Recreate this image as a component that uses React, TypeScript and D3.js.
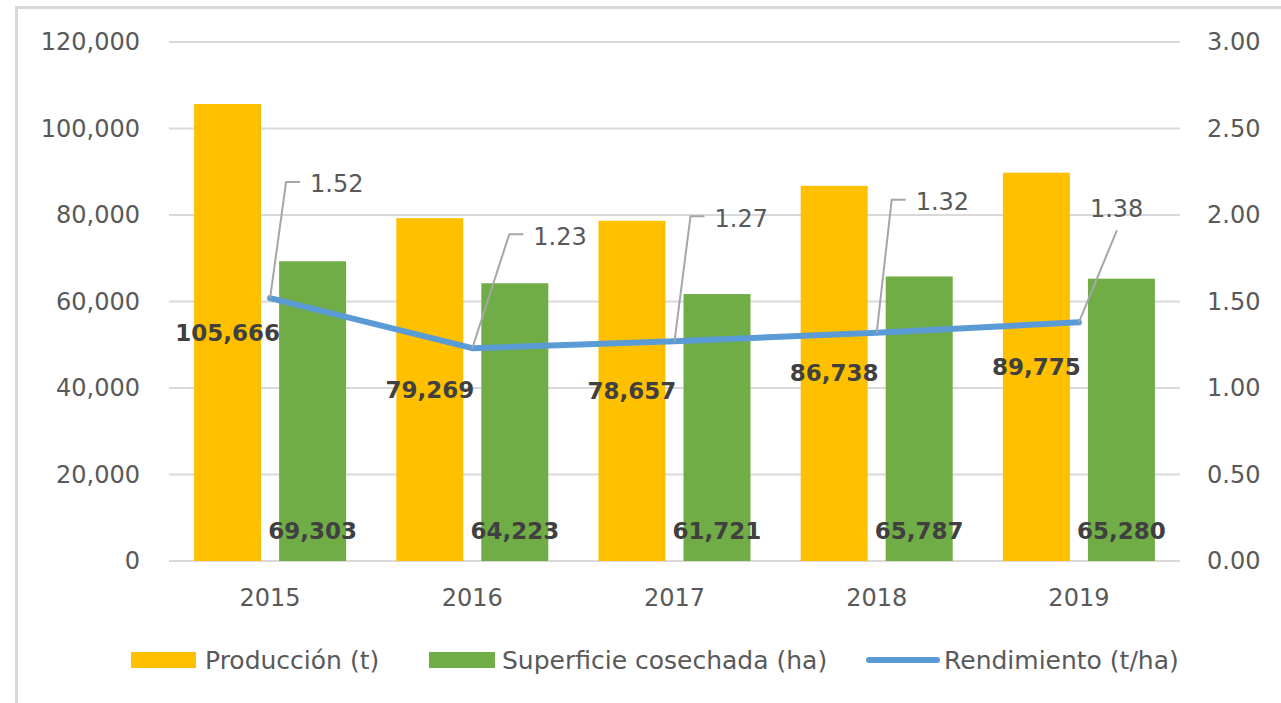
import * as d3 from "d3";

const years = ["2015", "2016", "2017", "2018", "2019"];
const produccion = [105666, 79269, 78657, 86738, 89775];
const superficie = [69303, 64223, 61721, 65787, 65280];
const rendimiento = [1.52, 1.23, 1.27, 1.32, 1.38];
const leftTicks = [0, 20000, 40000, 60000, 80000, 100000, 120000];
const rightTicks = [0, 0.5, 1, 1.5, 2, 2.5, 3];
const legendNames = ["Producción (t)", "Superficie cosechada (ha)", "Rendimiento (t/ha)"];

// manual label placement for the line labels (offset from point, px)
const lineLabelOffsets = [
  { dx: 40, dy: -114, elbow: true },
  { dx: 61, dy: -112, elbow: true },
  { dx: 40, dy: -123, elbow: true },
  { dx: 39, dy: -131, elbow: true },
  { dx: 11, dy: -114, elbow: false },
];

const W = 1281,
  H = 703;
const left = 169,
  right = 1180,
  top = 42,
  bottom = 561;

const YELLOW = "#FFC000",
  GREEN = "#70AD47",
  BLUE = "#5B9BD5",
  GRID = "#d9d9d9",
  TEXT = "#595959",
  LABEL = "#404040";

const font = "'DejaVu Sans', sans-serif";

export default function App() {
  const x0 = d3.scaleBand().domain(years).range([left, right]);
  const bw = x0.bandwidth();
  const x1 = d3
    .scaleBand()
    .domain(["p", "s"])
    .range([bw / 2 - 76, bw / 2 + 76])
    .paddingInner(0.212);
  const y = d3.scaleLinear().domain([0, 120000]).range([bottom, top]);
  const y2 = d3.scaleLinear().domain([0, 3]).range([bottom, top]);

  const cx = (yr) => x0(yr) + bw / 2;
  const line = d3
    .line()
    .x((d, i) => cx(years[i]))
    .y((d) => y2(d));

  const fmt = d3.format(",");
  const legY = 660;

  return (
    <div style={{ position: "absolute", left: 0, top: 0 }}>
      <svg width={W} height={H} style={{ display: "block", background: "#fff", fontFamily: font }}>
        {/* frame */}
        <line x1={16.5} x2={16.5} y1={6} y2={H} stroke={GRID} strokeWidth={3} />
        <line x1={15} x2={W} y1={7.5} y2={7.5} stroke={GRID} strokeWidth={3} />

        {/* gridlines */}
        {leftTicks.map((t) => (
          <line key={t} x1={left} x2={right} y1={y(t)} y2={y(t)} stroke={GRID} strokeWidth={2} />
        ))}

        {/* left axis */}
        {leftTicks.map((t) => (
          <text key={t} x={140} y={y(t)} dy="0.35em" textAnchor="end" fontSize={24} fill={TEXT}>
            {fmt(t)}
          </text>
        ))}
        {/* right axis */}
        {rightTicks.map((t) => (
          <text key={t} x={1207} y={y2(t)} dy="0.35em" fontSize={24} fill={TEXT}>
            {t.toFixed(2)}
          </text>
        ))}
        {/* x labels */}
        {years.map((yr) => (
          <text key={yr} x={cx(yr)} y={598} dy="0.35em" textAnchor="middle" fontSize={24} fill={TEXT}>
            {yr}
          </text>
        ))}

        {/* bars */}
        {years.map((yr, i) => (
          <g key={yr} transform={`translate(${x0(yr)},0)`}>
            <rect x={x1("p")} y={y(produccion[i])} width={x1.bandwidth()} height={bottom - y(produccion[i])} fill={YELLOW} />
            <rect x={x1("s")} y={y(superficie[i])} width={x1.bandwidth()} height={bottom - y(superficie[i])} fill={GREEN} />
          </g>
        ))}

        {/* line */}
        <path d={line(rendimiento)} fill="none" stroke={BLUE} strokeWidth={6} strokeLinejoin="round" strokeLinecap="round" />

        {/* bar labels */}
        {years.map((yr, i) => (
          <g key={yr} fontWeight="bold" fontSize={23} fill={LABEL} textAnchor="middle">
            <text x={x0(yr) + x1("p") + x1.bandwidth() / 2} y={(y(produccion[i]) + bottom) / 2} dy="0.35em">
              {fmt(produccion[i])}
            </text>
            <text x={x0(yr) + x1("s") + x1.bandwidth() / 2} y={bottom - 30} dy="0.35em">
              {fmt(superficie[i])}
            </text>
          </g>
        ))}

        {/* line labels with leaders */}
        {rendimiento.map((v, i) => {
          const px = cx(years[i]);
          const py = y2(v);
          const o = lineLabelOffsets[i];
          const tx = px + o.dx;
          const ty = py + o.dy;
          const pts = o.elbow
            ? [[px, py], [tx - 24, ty - 2], [tx - 10, ty - 2]]
            : [[px, py], [tx + 27, ty + 22]];
          return (
            <g key={i}>
              <polyline points={pts.map((p) => p.join(",")).join(" ")} fill="none" stroke="#a6a6a6" strokeWidth={2} />
              <text x={tx} y={ty} dy="0.35em" fontSize={24} fill={TEXT}>
                {v.toFixed(2)}
              </text>
            </g>
          );
        })}

        {/* legend */}
        <rect x={131} y={legY - 8} width={65} height={16} fill={YELLOW} />
        <text x={205} y={legY} dy="0.35em" fontSize={25} fill={TEXT}>{legendNames[0]}</text>
        <rect x={429} y={legY - 8} width={66} height={16} fill={GREEN} />
        <text x={502} y={legY} dy="0.35em" fontSize={25} fill={TEXT}>{legendNames[1]}</text>
        <line x1={869} x2={937} y1={legY} y2={legY} stroke={BLUE} strokeWidth={6} strokeLinecap="round" />
        <text x={944} y={legY} dy="0.35em" fontSize={25} fill={TEXT}>{legendNames[2]}</text>
      </svg>
    </div>
  );
}
